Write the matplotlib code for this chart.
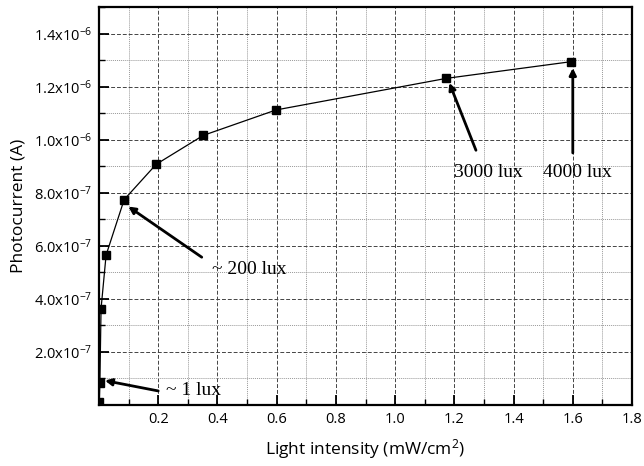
import matplotlib
matplotlib.use("Agg")
import matplotlib.pyplot as plt
from matplotlib.ticker import MultipleLocator, FuncFormatter

intensity = [0.001, 0.003, 0.007, 0.024, 0.085, 0.193, 0.352, 0.598, 1.173, 1.595]
current = [0.01e-6, 0.083e-6, 0.363e-6, 0.565e-6, 0.774e-6, 0.907e-6,
           1.016e-6, 1.112e-6, 1.231e-6, 1.294e-6]

# annotations: label, text pos, arrow tail, arrow head
notes = [
    ("~ 1 lux", (0.226, 0.053e-6), (0.2, 0.053e-6), (0.02, 0.092e-6)),
    ("~ 200 lux", (0.38, 0.51e-6), (0.347, 0.557e-6), (0.099, 0.748e-6)),
    ("3000 lux", (1.198, 0.876e-6), (1.273, 0.96e-6), (1.183, 1.214e-6)),
    ("4000 lux", (1.50, 0.876e-6), (1.6, 0.95e-6), (1.6, 1.27e-6)),
]

sans = "Open Sans"
plt.rcParams["font.family"] = sans
plt.rcParams["mathtext.fontset"] = "custom"
plt.rcParams["mathtext.rm"] = sans
plt.rcParams["mathtext.default"] = "rm"


def sci_label(v, pos):
    if v <= 0:
        return ""
    exp = 0
    m = v
    while m < 1 - 1e-9:
        m *= 10
        exp -= 1
    return f"{m:.1f}x10$^{{{exp}}}$"


fig = plt.figure(figsize=(6.44, 4.66), dpi=100)
ax = fig.add_axes([0.1537, 0.1309, 0.8277, 0.8541])

ax.plot(intensity, current, color="black", lw=0.9, zorder=3)
ax.plot(intensity, current, "s", color="black", ms=6, zorder=4)

for label, tpos, tail, head in notes:
    ax.annotate("", xy=head, xytext=tail,
                arrowprops=dict(arrowstyle="-|>", color="black", lw=2,
                                mutation_scale=10, shrinkA=0, shrinkB=0),
                zorder=5)
    ax.text(tpos[0], tpos[1], label, family="Liberation Serif", fontsize=14,
            va="center", ha="left", zorder=5)

ax.set_xlim(0, 1.8)
ax.set_ylim(0, 1.5e-6)
ax.xaxis.set_major_locator(MultipleLocator(0.2))
ax.xaxis.set_minor_locator(MultipleLocator(0.1))
ax.yaxis.set_major_locator(MultipleLocator(0.2e-6))
ax.yaxis.set_minor_locator(MultipleLocator(0.1e-6))
ax.xaxis.set_major_formatter(FuncFormatter(lambda v, p: "" if v <= 0 else f"{v:.1f}"))
ax.yaxis.set_major_formatter(FuncFormatter(sci_label))
ax.yaxis.get_offset_text().set_visible(False)

ax.grid(which="major", ls=(0, (4, 2)), color="#444444", lw=0.7)
ax.grid(which="minor", ls=(0, (1, 1)), color="#999999", lw=0.7)

ax.tick_params(which="major", direction="in", length=7, width=1.3,
               labelsize=10.5, pad=5)
ax.tick_params(which="minor", direction="in", length=4, width=1.0)
for s in ax.spines.values():
    s.set_linewidth(1.6)

ax.set_xlabel("Light intensity (mW/cm$^2$)", fontsize=12.5, labelpad=7)
ax.set_ylabel("Photocurrent (A)", fontsize=12.5, labelpad=5)

fig.savefig("out.png", dpi=100)
